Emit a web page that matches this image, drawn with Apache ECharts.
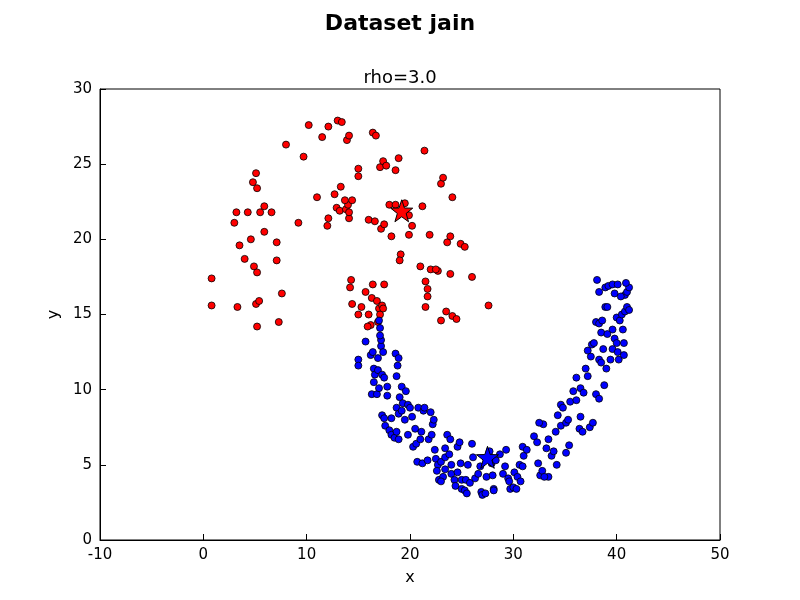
<!DOCTYPE html>
<html><head><meta charset="utf-8">
<script src="https://cdn.jsdelivr.net/npm/echarts@6/dist/echarts.min.js"></script>
<style>html,body{margin:0;background:#fff}#c{width:800px;height:600px}</style>
</head><body><div id="c"></div>
<script>
var redPts = [[0.8,17.4],[0.8,15.6],[3.2,21.8],[3.0,21.1],[3.5,19.6],[3.3,15.5],[4.3,21.8],[4.0,18.7],[4.6,20.0],[4.8,23.8],[5.1,24.4],[5.2,23.4],[4.9,18.2],[5.2,17.8],[5.5,21.8],[5.9,22.2],[6.6,21.8],[5.9,20.5],[7.1,19.8],[7.1,18.6],[5.1,15.7],[5.4,15.9],[5.2,14.2],[7.3,14.5],[7.6,16.4],[8.0,26.3],[9.2,21.1],[9.7,25.5],[10.2,27.6],[11.5,26.8],[11.0,22.8],[12.1,27.5],[13.0,27.9],[13.4,27.8],[13.9,26.6],[14.1,26.9],[12.1,21.4],[12.0,20.9],[12.7,23.0],[12.9,22.1],[13.3,23.5],[13.2,21.9],[13.8,22.0],[14.0,22.3],[14.1,21.4],[14.1,21.8],[14.4,22.6],[13.7,22.6],[15.0,24.7],[15.0,24.2],[16.4,27.1],[16.7,26.9],[17.1,24.8],[17.4,25.2],[17.7,24.9],[18.6,24.6],[18.9,25.4],[16.0,21.3],[16.6,21.2],[17.2,20.7],[17.5,21.0],[18.0,22.3],[18.6,22.3],[19.5,22.4],[19.9,21.6],[20.2,20.9],[18.2,20.2],[19.9,20.3],[19.1,19.0],[19.0,18.6],[21.4,25.9],[21.2,22.2],[21.9,20.3],[21.0,18.2],[22.0,18.0],[22.7,17.9],[23.0,23.7],[23.2,24.1],[24.1,22.8],[23.6,19.8],[23.9,20.2],[23.9,17.7],[24.9,19.7],[25.3,19.5],[26.0,17.5],[21.5,17.2],[21.7,16.7],[21.7,16.2],[21.5,15.5],[23.0,14.6],[23.5,15.2],[24.1,14.9],[24.5,14.7],[27.6,15.6],[22.5,18.0],[14.3,17.3],[14.2,16.8],[14.4,15.7],[15.0,15.0],[15.3,15.5],[15.7,16.5],[16.0,15.0],[16.4,17.0],[16.3,16.1],[16.8,15.9],[17.0,15.4],[17.3,15.6],[17.5,17.0],[17.1,15.0],[16.9,14.5],[16.2,14.3],[15.9,14.2],[17.4,15.4]];
var bluePts = [[15.0,12.0],[15.0,11.6],[15.7,13.2],[16.2,12.3],[16.4,12.5],[16.5,11.4],[16.6,11.0],[16.9,11.3],[16.5,10.5],[16.3,9.7],[16.8,9.7],[17.0,10.1],[17.2,12.9],[17.2,13.3],[17.1,13.6],[17.1,14.1],[17.0,14.6],[16.9,12.1],[17.4,12.5],[17.3,11.0],[17.5,10.8],[17.8,10.2],[17.8,9.6],[17.3,8.3],[17.5,8.1],[17.6,7.6],[18.2,8.1],[18.0,7.3],[18.2,7.0],[18.5,6.8],[18.7,7.2],[18.9,6.7],[18.7,8.8],[18.9,8.4],[19.2,8.6],[18.6,12.4],[18.9,12.1],[18.8,11.6],[18.7,10.9],[19.2,10.2],[19.0,9.5],[19.3,9.1],[19.8,9.0],[19.5,8.0],[19.8,7.0],[19.6,9.9],[20.0,8.8],[20.2,8.2],[20.3,6.2],[20.6,6.4],[20.5,7.4],[20.8,8.8],[21.1,7.2],[21.0,6.7],[21.3,8.6],[21.4,8.8],[20.7,5.2],[21.2,5.1],[21.7,5.3],[21.8,6.7],[22.1,7.0],[22.2,7.7],[22.0,8.5],[22.3,8.0],[22.4,6.0],[22.5,5.4],[22.7,5.0],[22.6,4.6],[23.0,5.2],[22.8,4.0],[23.2,4.2],[23.0,3.9],[23.4,5.5],[23.4,4.7],[23.4,6.1],[23.6,7.0],[23.9,6.7],[23.8,5.7],[24.0,5.0],[24.0,4.4],[24.3,4.0],[24.4,3.6],[24.6,4.5],[24.6,6.2],[24.8,6.5],[24.9,5.1],[25.0,4.0],[25.0,3.4],[25.3,3.3],[25.5,3.1],[25.4,4.0],[25.6,5.0],[25.8,3.8],[26.0,6.4],[26.1,5.5],[26.3,4.1],[26.6,4.4],[26.8,4.9],[26.9,3.2],[27.0,3.0],[27.3,3.1],[27.4,4.2],[27.7,5.9],[27.9,5.1],[28.0,4.3],[28.1,3.4],[28.1,3.3],[28.3,5.3],[28.7,5.7],[29.0,4.4],[29.2,4.9],[29.3,6.0],[29.5,4.1],[29.6,3.9],[29.7,3.4],[30.0,3.5],[30.1,4.5],[30.4,4.2],[30.3,3.4],[30.6,5.0],[30.9,6.2],[31.0,5.6],[30.9,4.9],[30.7,3.9],[31.3,6.0],[32.0,6.9],[32.3,6.5],[32.4,5.1],[32.6,4.3],[32.8,4.6],[32.9,7.7],[32.5,7.8],[33.2,6.1],[33.4,6.7],[33.7,5.6],[33.9,5.9],[33.4,4.2],[33.0,4.2],[34.2,5.0],[34.1,7.2],[34.6,7.6],[34.3,8.3],[34.6,9.0],[34.8,8.8],[35.1,7.8],[35.3,8.0],[35.5,9.2],[35.4,6.3],[35.1,5.8],[35.8,9.9],[36.1,9.3],[36.4,7.4],[36.7,7.2],[36.5,8.2],[36.5,10.1],[36.1,10.8],[36.8,9.8],[37.0,11.4],[37.2,10.9],[37.5,12.2],[37.2,12.6],[37.6,13.0],[37.8,13.1],[37.4,7.5],[37.7,7.8],[38.0,9.7],[38.3,9.4],[38.0,14.5],[38.3,14.4],[38.6,14.6],[38.5,13.8],[38.3,12.0],[38.5,11.8],[38.7,12.7],[39.0,11.4],[38.8,10.3],[38.1,17.3],[38.3,16.5],[38.9,15.5],[39.1,15.5],[38.9,16.8],[39.2,16.9],[39.6,17.0],[39.8,16.4],[40.1,17.0],[40.0,14.8],[40.3,14.6],[39.6,14.0],[39.8,13.4],[40.0,13.1],[39.6,12.7],[40.1,12.5],[40.2,12.0],[40.7,13.1],[40.7,12.3],[40.6,14.0],[40.5,15.0],[40.8,15.2],[41.0,15.5],[41.2,15.3],[40.8,16.3],[41.0,16.5],[41.2,16.8],[40.9,17.1],[39.1,13.7],[39.4,12.0],[40.4,16.2]];
var centers = [[19.2,21.9,'#ff0000'],[27.5,5.5,'#0000ff']];

var chart = echarts.init(document.getElementById('c'));
var font = 'DejaVu Sans';
var starPath = 'path://M0,-10L2.35,-3.24L9.51,-3.09L3.8,1.24L5.88,8.09L0,4L-5.88,8.09L-3.8,1.24L-9.51,-3.09L-2.35,-3.24Z';
function axis(name, min, max, interval, gap) {
  return {
    type: 'value', min: min, max: max, interval: interval, name: name,
    nameLocation: 'middle', nameGap: gap,
    nameTextStyle: { color: '#000', fontSize: 16, fontFamily: font },
    axisLine: { show: true, onZero: false, lineStyle: { color: '#000', width: 1 } },
    axisTick: { inside: true, length: 6, lineStyle: { color: '#000' } },
    axisLabel: { color: '#000', fontSize: 15, fontFamily: font, margin: 8 },
    splitLine: { show: false }
  };
}
chart.setOption({
  animation: false,
  title: [
    { text: 'Dataset jain', left: 'center', top: 8, textStyle: { fontSize: 22, fontWeight: 'bold', color: '#000', fontFamily: font } },
    { text: 'rho=3.0', left: 'center', top: 64, textStyle: { fontSize: 18, fontWeight: 'normal', color: '#000', fontFamily: font } }
  ],
  grid: { left: 100, right: 80, top: 89, bottom: 60, show: true, borderColor: '#000', borderWidth: 1 },
  xAxis: axis('x', -10, 50, 10, 30),
  yAxis: axis('y', 0, 30, 5, 36),
  series: [
    { type: 'scatter', data: redPts, symbolSize: 7, itemStyle: { color: '#ff0000', borderColor: '#000', borderWidth: 0.8, opacity: 1 } },
    { type: 'scatter', data: bluePts, symbolSize: 7, itemStyle: { color: '#0000ff', borderColor: '#000', borderWidth: 0.8, opacity: 1 } },
    { type: 'scatter', data: centers.map(function (c) { return { value: [c[0], c[1]], itemStyle: { color: c[2] } }; }),
      symbol: starPath, symbolSize: 22, itemStyle: { borderColor: '#000', borderWidth: 1, opacity: 1 }, z: 5 }
  ]
});
</script></body></html>
